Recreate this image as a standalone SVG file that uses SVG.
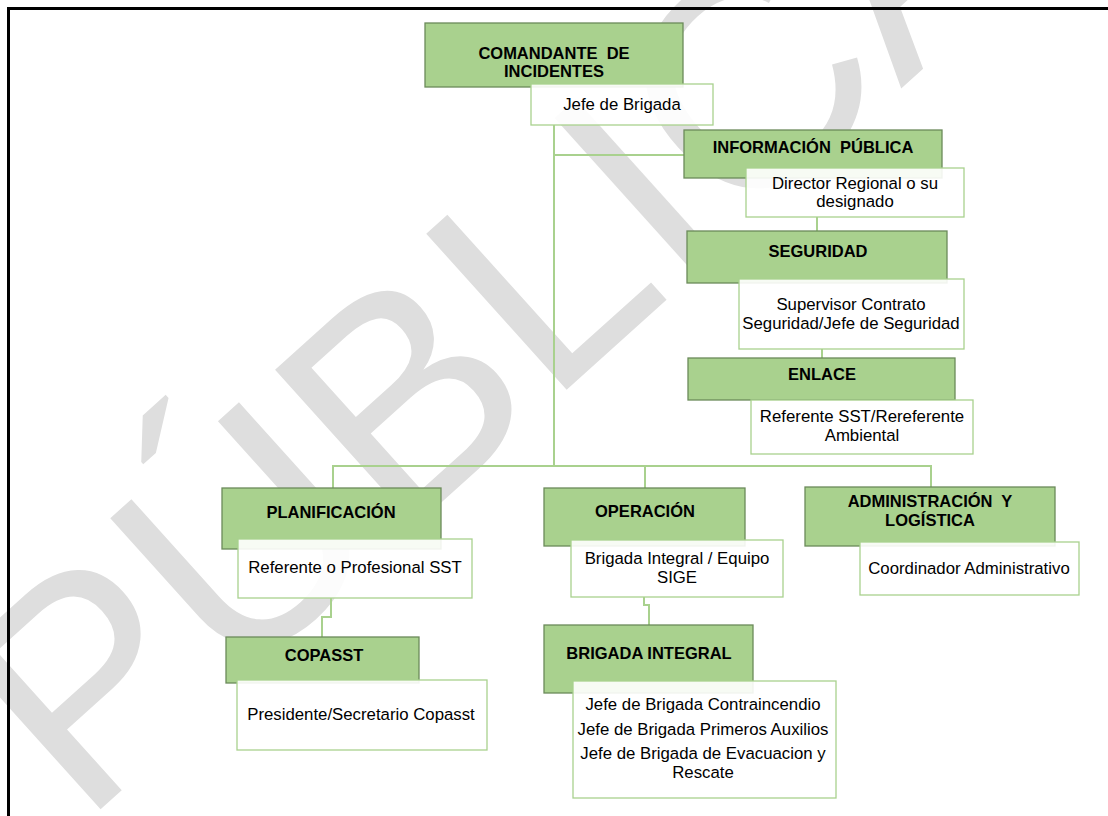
<svg xmlns="http://www.w3.org/2000/svg" width="1108" height="816" viewBox="0 0 1108 816">
<style>
.g{fill:#a9d18e;stroke:#6b8a5a;stroke-width:1.3}
.w{fill:#ffffff;fill-opacity:0.9;stroke:#a9d18e;stroke-width:1.3}
.h{font-family:"Liberation Sans",Arial,sans-serif;font-weight:bold;font-size:16.5px;fill:#000;text-anchor:middle}
.t{font-family:"Liberation Sans",Arial,sans-serif;font-size:16.8px;fill:#000;text-anchor:middle}
.c{fill:none;stroke:#a9d18e;stroke-width:2}
</style>
<rect width="1108" height="816" fill="#ffffff"/>
<text id="watermark" x="0" y="0" transform="translate(82,826) rotate(-42)" font-family="Liberation Sans,Arial,sans-serif" font-size="305" fill="#dedede">PÚBLICA</text>
<path d="M8.5,816 V8.5 H1108" fill="none" stroke="#000" stroke-width="3"/>
<g id="connectors">
<path class="c" d="M554,125 V466"/>
<path class="c" d="M554,155 H685"/>
<path class="c" d="M817,217 V231"/>
<path class="c" d="M822,349 V358"/>
<path class="c" d="M333,488 V466 H931 V487"/>
<path class="c" d="M645,466 V488"/>
<path class="c" d="M331,598 V617 H322 V637"/>
<path class="c" d="M644,597 V605 H649 V625"/>
</g>
<g id="comandante">
<rect class="g" x="425" y="23" width="258" height="64"/>
<text class="h" x="554" y="59">COMANDANTE&#160; DE</text>
<text class="h" x="554" y="77">INCIDENTES</text>
</g>
<g id="jefe-brigada">
<rect class="w" x="531" y="84" width="182" height="41"/>
<text class="t" x="622" y="110">Jefe de Brigada</text>
</g>
<g id="informacion">
<rect class="g" x="684" y="130" width="258" height="48"/>
<text class="h" x="813" y="153">INFORMACIÓN&#160; PÚBLICA</text>
</g>
<g id="director">
<rect class="w" x="746" y="168" width="218" height="49"/>
<text class="t" x="855" y="189">Director Regional o su</text>
<text class="t" x="855" y="207">designado</text>
</g>
<g id="seguridad">
<rect class="g" x="687" y="231" width="260" height="52"/>
<text class="h" x="818" y="257">SEGURIDAD</text>
</g>
<g id="supervisor">
<rect class="w" x="739" y="279" width="225" height="70"/>
<text class="t" x="851" y="310">Supervisor Contrato</text>
<text class="t" x="851" y="329">Seguridad/Jefe de Seguridad</text>
</g>
<g id="enlace">
<rect class="g" x="688" y="358" width="267" height="42"/>
<text class="h" x="822" y="380">ENLACE</text>
</g>
<g id="referente-sst">
<rect class="w" x="751" y="400" width="222" height="54"/>
<text class="t" x="862" y="422">Referente SST/Rereferente</text>
<text class="t" x="862" y="441">Ambiental</text>
</g>
<g id="planificacion">
<rect class="g" x="222" y="488" width="219" height="61"/>
<text class="h" x="331" y="518">PLANIFICACIÓN</text>
</g>
<g id="referente-profesional">
<rect class="w" x="238" y="539" width="234" height="59"/>
<text class="t" x="355" y="573">Referente o Profesional SST</text>
</g>
<g id="copasst">
<rect class="g" x="226" y="637" width="193" height="46"/>
<text class="h" x="324" y="661">COPASST</text>
</g>
<g id="presidente">
<rect class="w" x="237" y="680" width="250" height="70"/>
<text class="t" x="361" y="720">Presidente/Secretario Copasst</text>
</g>
<g id="operacion">
<rect class="g" x="544" y="488" width="201" height="58"/>
<text class="h" x="645" y="517">OPERACIÓN</text>
</g>
<g id="brigada-equipo">
<rect class="w" x="571" y="540" width="212" height="57"/>
<text class="t" x="677" y="564">Brigada Integral / Equipo</text>
<text class="t" x="677" y="583">SIGE</text>
</g>
<g id="brigada-integral">
<rect class="g" x="544" y="625" width="209" height="68"/>
<text class="h" x="649" y="659">BRIGADA INTEGRAL</text>
</g>
<g id="jefes">
<rect class="w" x="573" y="681" width="263" height="117"/>
<text class="t" x="703" y="710">Jefe de Brigada Contraincendio</text>
<text class="t" x="703" y="735">Jefe de Brigada Primeros Auxilios</text>
<text class="t" x="703" y="759">Jefe de Brigada de Evacuacion y</text>
<text class="t" x="703" y="778">Rescate</text>
</g>
<g id="administracion">
<rect class="g" x="805" y="487" width="250" height="59"/>
<text class="h" x="930" y="507">ADMINISTRACIÓN&#160; Y</text>
<text class="h" x="930" y="526">LOGÍSTICA</text>
</g>
<g id="coordinador">
<rect class="w" x="860" y="542" width="219" height="53"/>
<text class="t" x="969" y="574">Coordinador Administrativo</text>
</g>
</svg>
